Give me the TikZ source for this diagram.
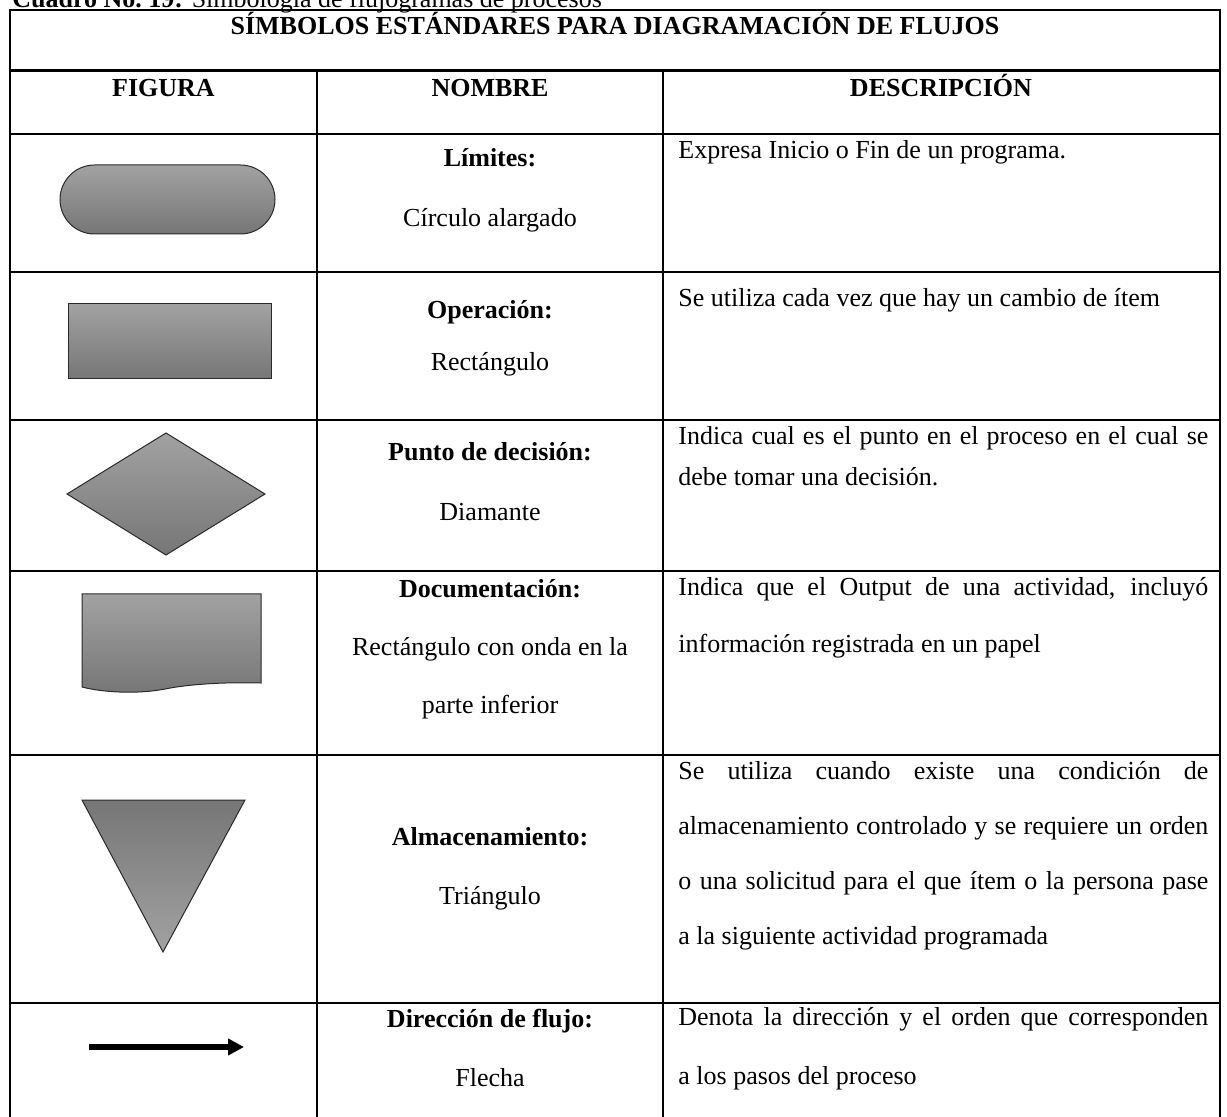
\documentclass[tikz,border=0pt]{standalone}
\usepackage{fontspec}
\setmainfont{Liberation Serif}
\usetikzlibrary{arrows.meta}

\definecolor{shLight}{HTML}{A2A2A2}
\definecolor{shDark}{HTML}{767676}
\definecolor{shEdge}{HTML}{2A2A2A}

\begin{document}
\begin{tikzpicture}[x=0.5pt,y=-0.5pt,
  gridline/.style={line width=1.3pt},
  txt/.style={inner sep=0pt, font=\fontsize{13}{15}\selectfont},
  nm/.style={txt, anchor=base},
  nmb/.style={txt, anchor=base, font=\fontsize{13}{15}\selectfont\bfseries},
  ds/.style={txt, anchor=base west},
  symb/.style={draw=shEdge, line width=0.5pt, top color=shLight, bottom color=shDark},
  symbinv/.style={draw=shEdge, line width=0.5pt, top color=shDark, bottom color=shLight},
  flow/.style={line width=3pt, -{Triangle[length=8pt,width=8pt]}}
]
\useasboundingbox (0,0) rectangle (1227,1117);

% caption above the table
\node[ds] (cap) at (12,8) {\textbf{Cuadro No.\ 19:} Simbología de flujogramas de procesos};

% table frame and rules
\draw[gridline] (10,1130) -- (10,10) -- (1220,10) -- (1220,1130);
\foreach \yy in {70.5,134,272,420,571,755,1003}
  \draw[gridline] (10,\yy) -- (1220,\yy);
\draw[gridline] (317,70.5) -- (317,1130);
\draw[gridline] (663,70.5) -- (663,1130);

% headings
\node[nmb] (title) at (615,35) {SÍMBOLOS ESTÁNDARES PARA DIAGRAMACIÓN DE FLUJOS};
\node[nmb] (hfig) at (163.5,97) {FIGURA};
\node[nmb] (hnom) at (490,97) {NOMBRE};
\node[nmb] (hdes) at (941,97) {DESCRIPCIÓN};

% row 1: limits
\draw[symb, rounded corners=17.25pt] (60,165) rectangle (275,234);
\node[nmb] (n1a) at (490,167) {Límites:};
\node[nm]  (n1b) at (490,227) {Círculo alargado};
\node[ds]  (d1)  at (678,159) {Expresa Inicio o Fin de un programa.};

% row 2: operation
\draw[symb] (68,304) rectangle (271,379);
\node[nmb] (n2a) at (490,319) {Operación:};
\node[nm]  (n2b) at (490,371) {Rectángulo};
\node[ds]  (d2)  at (678,307) {Se utiliza cada vez que hay un cambio de ítem};

% row 3: decision
\draw[symb] (67,494) -- (166,433) -- (265,494) -- (166,555) -- cycle;
\node[nmb] (n3a) at (490,461) {Punto de decisión:};
\node[nm]  (n3b) at (490,521) {Diamante};
\node[ds]  (d3a) at (678,445) {\makebox[265pt][s]{Indica cual es el punto en el proceso en el cual se}};
\node[ds]  (d3b) at (678,486) {debe tomar una decisión.};

% row 4: document
\draw[symb] (82,594) -- (261,594) -- (261,683)
  .. controls (225,682) and (190,684) .. (165,689)
  .. controls (140,694) and (105,693) .. (82,687) -- cycle;
\node[nmb] (n4a) at (490,597) {Documentación:};
\node[nm]  (n4b) at (490,655) {Rectángulo con onda en la};
\node[nm]  (n4c) at (490,713) {parte inferior};
\node[ds]  (d4a) at (678,596) {\makebox[265pt][s]{Indica que el Output de una actividad, incluyó}};
\node[ds]  (d4b) at (678,653) {información registrada en un papel};

% row 5: storage
\draw[symbinv] (82,800) -- (245,800) -- (163,952) -- cycle;
\node[nmb] (n5a) at (490,845) {Almacenamiento:};
\node[nm]  (n5b) at (490,904) {Triángulo};
\node[ds]  (d5a) at (678,779) {\makebox[265pt][s]{Se utiliza cuando existe una condición de}};
\node[ds]  (d5b) at (678,834) {\makebox[265pt][s]{almacenamiento controlado y se requiere un orden}};
\node[ds]  (d5c) at (678,889) {\makebox[265pt][s]{o una solicitud para el que ítem o la persona pase}};
\node[ds]  (d5d) at (678,944) {a la siguiente actividad programada};

% row 6: flow direction
\coordinate (fstart) at (89,1047);
\coordinate (fend) at (244,1047);
\draw[flow] (fstart) -- (fend);
\node[nmb] (n6a) at (490,1027) {Dirección de flujo:};
\node[nm]  (n6b) at (490,1086) {Flecha};
\node[ds]  (d6a) at (678,1025) {\makebox[265pt][s]{Denota la dirección y el orden que corresponden}};
\node[ds]  (d6b) at (678,1084) {a los pasos del proceso};
\end{tikzpicture}
\end{document}
